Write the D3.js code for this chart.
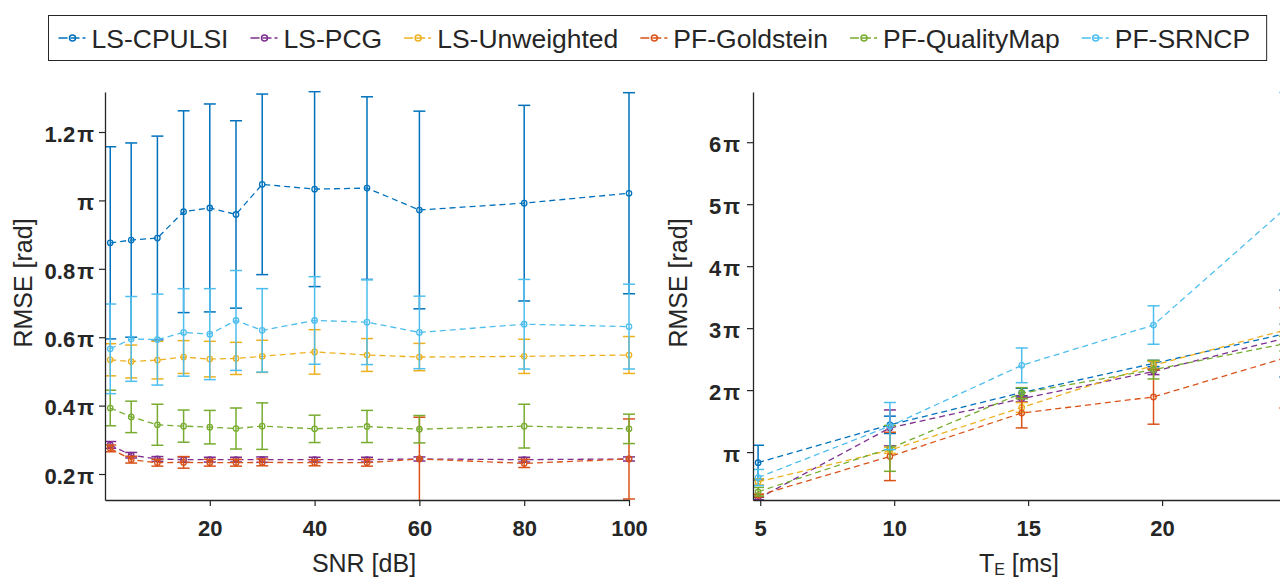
<!DOCTYPE html>
<html>
<head>
<meta charset="utf-8">
<script src="https://cdn.jsdelivr.net/npm/d3@7"></script>
<style>
  html, body { margin: 0; padding: 0; background: #fff; }
  svg { display: block; font-family: "Liberation Sans", Arial, Helvetica, sans-serif; }
</style>
</head>
<body>
<svg id="chart" width="1280" height="579"></svg>
<script>
// ---- Methods ----
const seriesNames = ["LS-CPULSI", "LS-PCG", "LS-Unweighted", "PF-Goldstein", "PF-QualityMap", "PF-SRNCP"];

// ---- RMSE versus SNR (values in units of π rad): mean and standard deviation ----
const snrValues = [1, 5, 10, 15, 20, 25, 30, 40, 50, 60, 80, 100];

const snrMeanCPULSI = [0.876, 0.884, 0.890, 0.967, 0.978, 0.959, 1.047, 1.033, 1.036, 0.972, 0.992, 1.021];
const snrStdCPULSI  = [0.281, 0.284, 0.298, 0.295, 0.304, 0.274, 0.264, 0.285, 0.267, 0.289, 0.286, 0.294];

const snrMeanPCG = [0.285, 0.255, 0.244, 0.242, 0.242, 0.242, 0.242, 0.242, 0.242, 0.244, 0.242, 0.244];
const snrStdPCG  = [0.010, 0.008, 0.007, 0.008, 0.007, 0.007, 0.008, 0.007, 0.007, 0.006, 0.007, 0.006];

const snrMeanUnweighted = [0.534, 0.529, 0.533, 0.542, 0.536, 0.538, 0.544, 0.557, 0.548, 0.542, 0.544, 0.548];
const snrStdUnweighted  = [0.047, 0.048, 0.055, 0.048, 0.052, 0.047, 0.047, 0.065, 0.048, 0.040, 0.050, 0.054];

const snrMeanGoldstein = [0.275, 0.242, 0.233, 0.234, 0.233, 0.233, 0.234, 0.233, 0.233, 0.244, 0.231, 0.244];
const snrStdGoldstein  = [0.010, 0.010, 0.010, 0.017, 0.010, 0.010, 0.010, 0.009, 0.010, 0.122, 0.012, 0.117];

const snrMeanQualityMap = [0.393, 0.367, 0.344, 0.340, 0.337, 0.333, 0.340, 0.332, 0.339, 0.331, 0.340, 0.332];
const snrStdQualityMap  = [0.052, 0.046, 0.060, 0.047, 0.049, 0.060, 0.068, 0.040, 0.047, 0.040, 0.064, 0.043];

const snrMeanSRNCP = [0.566, 0.595, 0.593, 0.614, 0.609, 0.649, 0.620, 0.649, 0.644, 0.614, 0.638, 0.631];
const snrStdSRNCP  = [0.131, 0.124, 0.133, 0.128, 0.133, 0.146, 0.122, 0.128, 0.124, 0.106, 0.131, 0.124];

// ---- RMSE versus echo time (values in units of π rad) ----
const teValues = [4.92, 9.84, 14.76, 19.68, 24.6];

const teMeanCPULSI = [0.83, 1.44, 1.96, 2.43, 2.91];
const teStdCPULSI  = [0.28, 0.14, 0.07, 0.05, 0.70];

const teMeanPCG = [0.25, 1.39, 1.86, 2.30, 2.84];
const teStdPCG  = [0.02, 0.29, 0.05, 0.05, 0.10];

const teMeanUnweighted = [0.52, 1.03, 1.72, 2.40, 2.97];
const teStdUnweighted  = [0.05, 0.05, 0.08, 0.06, 0.10];

const teMeanGoldstein = [0.30, 0.93, 1.63, 1.89, 2.52];
const teStdGoldstein  = [0.02, 0.39, 0.24, 0.44, 0.81];

const teMeanQualityMap = [0.36, 1.06, 1.95, 2.33, 2.75];
const teStdQualityMap  = [0.07, 0.37, 0.09, 0.15, 0.12];

const teMeanSRNCP = [0.59, 1.42, 2.40, 3.05, 4.93];
const teStdSRNCP  = [0.13, 0.38, 0.28, 0.31, 1.87];

// ---- Ticks ----
const snrTicks = [20, 40, 60, 80, 100];
const snrYTicks = [0.2, 0.4, 0.6, 0.8, 1, 1.2];
const snrYTickLabels = ["0.2π", "0.4π", "0.6π", "0.8π", "π", "1.2π"];

const teTicks = [5, 10, 15, 20];
const teYTicks = [1, 2, 3, 4, 5, 6];
const teYTickLabels = ["π", "2π", "3π", "4π", "5π", "6π"];

// ---- Styling ----
const ink = "#262626";
const palette = ["#0072BD", "#7E2F8E", "#EDB120", "#D95319", "#77AC30", "#4DBEEE"];

const svg = d3.select("#chart");
const defs = svg.append("defs");

function buildSeries(means, stds) {
  return seriesNames.map((name, k) => ({ name, color: palette[k], mean: means[k], std: stds[k] }));
}

function drawPanel(p) {
  const g = svg.append("g");
  const [x0, x1] = p.x.range();
  const [yb, yt] = p.y.range();

  // data are clipped to the axes area (a little slack on the right so end caps stay whole)
  defs.append("clipPath").attr("id", "clip-" + p.id)
    .append("rect").attr("x", x0).attr("y", yt - 1)
    .attr("width", x1 - x0 + p.clipRightPad).attr("height", yb - yt + 2);

  const plot = g.append("g").attr("clip-path", `url(#clip-${p.id})`);
  const capHalf = 6;
  const line = d3.line().x(d => p.x(d.x)).y(d => p.y(d.m));

  p.series.forEach(s => {
    const pts = p.xs.map((x, i) => ({ x, m: s.mean[i], e: s.std[i] }));
    const sg = plot.append("g").attr("stroke", s.color).attr("fill", "none");

    sg.selectAll("line.bar").data(pts).join("line").attr("class", "bar")
      .attr("x1", d => p.x(d.x)).attr("x2", d => p.x(d.x))
      .attr("y1", d => p.y(d.m - d.e)).attr("y2", d => p.y(d.m + d.e))
      .attr("stroke-width", 1.5);

    ["lo", "hi"].forEach(side => {
      sg.selectAll("line.cap-" + side).data(pts).join("line").attr("class", "cap-" + side)
        .attr("x1", d => p.x(d.x) - capHalf).attr("x2", d => p.x(d.x) + capHalf)
        .attr("y1", d => p.y(side === "lo" ? d.m - d.e : d.m + d.e))
        .attr("y2", d => p.y(side === "lo" ? d.m - d.e : d.m + d.e))
        .attr("stroke-width", 1.5);
    });

    sg.append("path").datum(pts).attr("d", line)
      .attr("stroke-width", 1.3).attr("stroke-dasharray", "6,4");

    sg.selectAll("circle").data(pts).join("circle")
      .attr("cx", d => p.x(d.x)).attr("cy", d => p.y(d.m)).attr("r", 2.7)
      .attr("stroke-width", 1.3).attr("fill", "none");
  });

  // Axes
  const xAxis = d3.axisBottom(p.x).tickValues(p.xTicks).tickSize(6).tickSizeOuter(0).tickPadding(14);
  const yAxis = d3.axisLeft(p.y).tickValues(p.yTicks).tickSize(6).tickSizeOuter(0)
    .tickFormat((d, i) => p.yTickLabels[i]);

  const gx = g.append("g").attr("transform", `translate(0,${yb})`).call(xAxis);
  const gy = g.append("g").attr("transform", `translate(${x0},0)`).call(yAxis);

  [gx, gy].forEach(ax => {
    ax.attr("font-family", null).attr("font-size", null);
    ax.select(".domain").attr("stroke", ink).attr("stroke-width", 1.3);
    ax.selectAll(".tick line").attr("stroke", ink).attr("stroke-width", 1.2);
    ax.selectAll(".tick text").attr("fill", ink)
      .style("font-size", "22px").style("font-weight", "bold");
  });

  gy.selectAll(".tick text")
    .attr("x", -p.yLabelGap).attr("dy", "0.42em")
    .each(function (d, i) {
      const t = d3.select(this);
      const num = p.yTickLabels[i].replace("π", "");
      t.text(num);
      t.append("tspan").attr("dx", num ? 2 : 0).text("π");
    });

  // Axis titles
  g.append("text")
    .attr("transform", `translate(${p.yTitleX},${p.yTitleY}) rotate(-90)`)
    .attr("text-anchor", "middle").attr("fill", ink).style("font-size", "25px")
    .text("RMSE [rad]");

  const xt = g.append("text")
    .attr("x", p.xTitleX).attr("y", 572)
    .attr("text-anchor", "middle").attr("fill", ink).style("font-size", "25px");
  p.xTitle(xt);
}

// Left panel: SNR sweep
drawPanel({
  id: "snr",
  x: d3.scaleLinear().domain([0, 100]).range([105, 629]),
  y: d3.scaleLinear().domain([0.124, 1.317]).range([500, 92]),
  xs: snrValues,
  series: buildSeries(
    [snrMeanCPULSI, snrMeanPCG, snrMeanUnweighted, snrMeanGoldstein, snrMeanQualityMap, snrMeanSRNCP],
    [snrStdCPULSI, snrStdPCG, snrStdUnweighted, snrStdGoldstein, snrStdQualityMap, snrStdSRNCP]),
  xTicks: snrTicks,
  yTicks: snrYTicks,
  yTickLabels: snrYTickLabels,
  yLabelGap: 11,
  clipRightPad: 8,
  yTitleX: 32, yTitleY: 283,
  xTitleX: 364,
  xTitle: t => t.text("SNR [dB]")
});

// Right panel: echo-time sweep
drawPanel({
  id: "te",
  x: d3.scaleLinear().domain([4.73, 24.7]).range([753, 1288]),
  y: d3.scaleLinear().domain([0.227, 6.81]).range([500, 92]),
  xs: teValues,
  series: buildSeries(
    [teMeanCPULSI, teMeanPCG, teMeanUnweighted, teMeanGoldstein, teMeanQualityMap, teMeanSRNCP],
    [teStdCPULSI, teStdPCG, teStdUnweighted, teStdGoldstein, teStdQualityMap, teStdSRNCP]),
  xTicks: teTicks,
  yTicks: teYTicks,
  yTickLabels: teYTickLabels,
  yLabelGap: 13,
  clipRightPad: 8,
  yTitleX: 687, yTitleY: 283,
  xTitleX: 1019,
  xTitle: t => {
    t.text("T");
    t.append("tspan").attr("dy", 3).style("font-size", "16px").text("E");
    t.append("tspan").attr("dy", -3).text(" [ms]");
  }
});

// Legend
const legend = svg.append("g");
const legBox = legend.append("rect");
const legY = 38;
let cx = 58.5;
let lastEnd = cx;
seriesNames.forEach((name, k) => {
  const it = legend.append("g");
  it.append("line")
    .attr("x1", cx).attr("x2", cx + 27).attr("y1", legY).attr("y2", legY)
    .attr("stroke", palette[k]).attr("stroke-width", 1.6).attr("stroke-dasharray", "9,3");
  it.append("circle")
    .attr("cx", cx + 14).attr("cy", legY).attr("r", 3)
    .attr("fill", "none").attr("stroke", palette[k]).attr("stroke-width", 1.5);
  const t = it.append("text")
    .attr("x", cx + 33).attr("y", legY + 9.5)
    .attr("fill", ink).style("font-size", "26.5px").text(name);
  const w = t.node().getComputedTextLength();
  lastEnd = cx + 33 + w;
  cx = lastEnd + 22;
});
legBox.attr("x", 48.5).attr("y", 15.5)
  .attr("width", lastEnd + 16.5 - 48.5).attr("height", 45)
  .attr("fill", "#fff").attr("stroke", ink).attr("stroke-width", 1);
</script>
</body>
</html>
